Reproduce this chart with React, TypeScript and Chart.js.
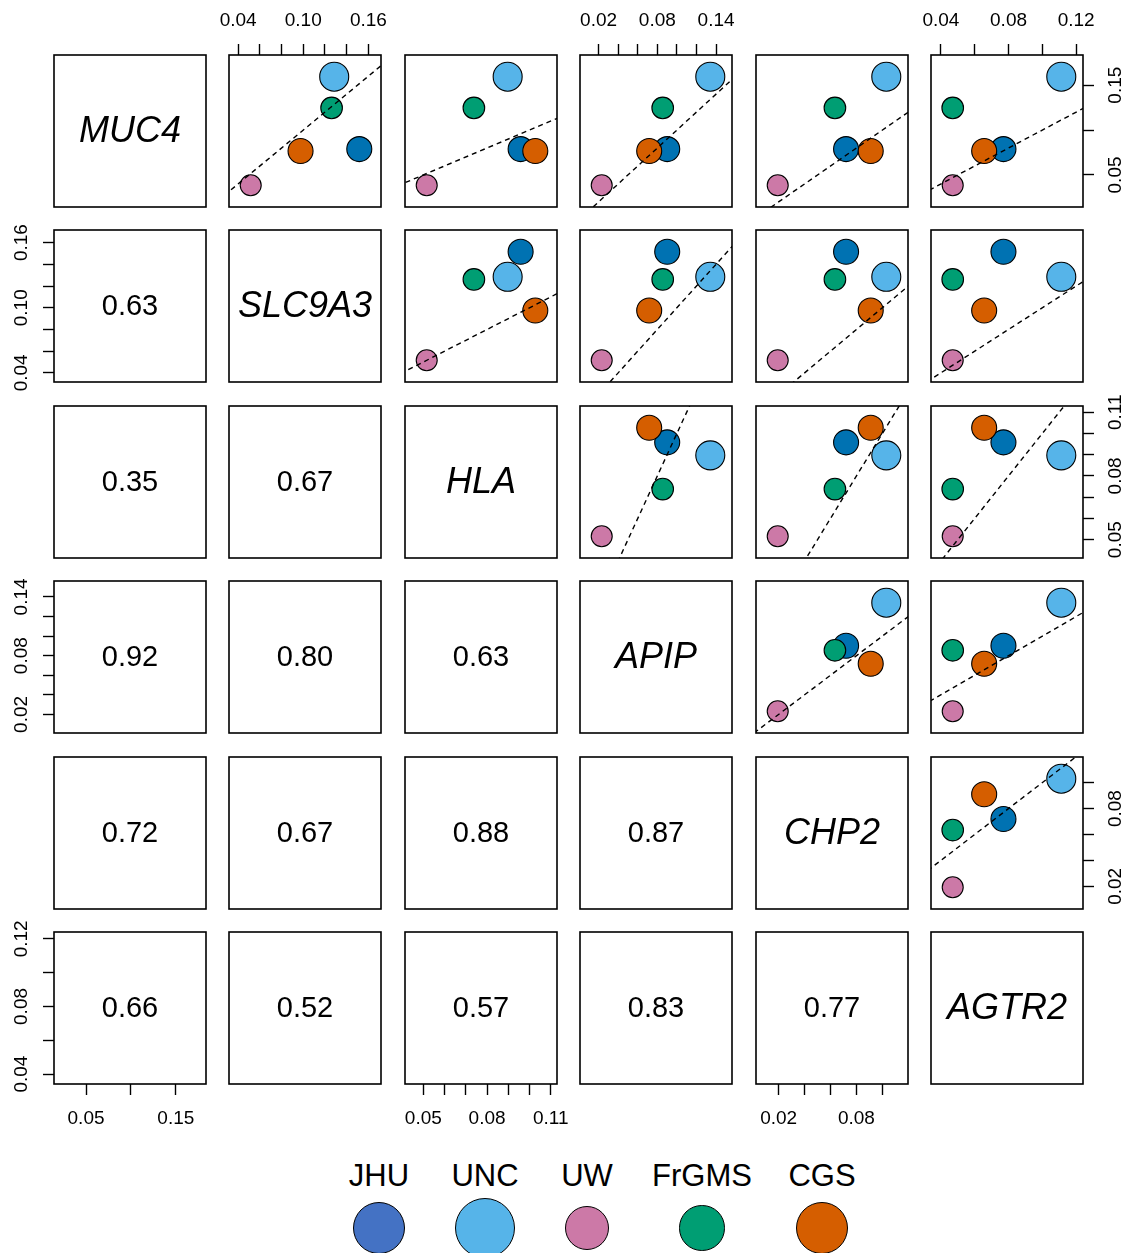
import React, { useEffect, useRef } from "react";
import { Chart, registerables } from "chart.js";

Chart.register(...registerables);

const FONT = "'Liberation Sans', Arial, Helvetica, sans-serif";
Chart.defaults.font.family = FONT;

// Sites and their marker styles
const groups = ["JHU", "UNC", "UW", "FrGMS", "CGS"];
const groupColors = ["#0072B2", "#56B4E9", "#CC79A7", "#009E73", "#D55E00"];
const legendColors = ["#4472C4", "#56B4E9", "#CC79A7", "#009E73", "#D55E00"];
const pointRadii = [12.5, 14.5, 10.5, 10.8, 12.5];

// Gene values per site (order follows `groups`)
const genes = ["MUC4", "SLC9A3", "HLA", "APIP", "CHP2", "AGTR2"];
const muc4 = [0.0788, 0.1594, 0.0385, 0.1247, 0.0766];
const slc9a3 = [0.1516, 0.1285, 0.0516, 0.1261, 0.0975];
const hla = [0.0958, 0.0897, 0.0516, 0.0738, 0.1027];
const apip = [0.0901, 0.1341, 0.0232, 0.0855, 0.0717];
const chp2 = [0.072, 0.103, 0.0193, 0.0634, 0.091];
const agtr2 = [0.077, 0.1112, 0.047, 0.047, 0.0656];
const geneValues = [muc4, slc9a3, hla, apip, chp2, agtr2];

// Axis ticks per gene and which of them carry a label
const geneTicks = [
  [0.05, 0.1, 0.15],
  [0.04, 0.06, 0.08, 0.1, 0.12, 0.14, 0.16],
  [0.05, 0.06, 0.07, 0.08, 0.09, 0.1, 0.11],
  [0.02, 0.04, 0.06, 0.08, 0.1, 0.12, 0.14],
  [0.02, 0.04, 0.06, 0.08, 0.1],
  [0.04, 0.06, 0.08, 0.1, 0.12],
];
const geneTickLabels = [
  ["0.05", "0.15"],
  ["0.04", "0.10", "0.16"],
  ["0.05", "0.08", "0.11"],
  ["0.02", "0.08", "0.14"],
  ["0.02", "0.08"],
  ["0.04", "0.08", "0.12"],
];

// Correlations shown below the diagonal, row by row
const corrRow2 = ["0.63"];
const corrRow3 = ["0.35", "0.67"];
const corrRow4 = ["0.92", "0.80", "0.63"];
const corrRow5 = ["0.72", "0.67", "0.88", "0.87"];
const corrRow6 = ["0.66", "0.52", "0.57", "0.83", "0.77"];
const correlations: string[][] = [[], corrRow2, corrRow3, corrRow4, corrRow5, corrRow6];

// Grid geometry
const GRID_LEFT = 54;
const GRID_TOP = 55;
const STEP = 175.4;
const BOX = 152;
const MARGIN = 64;
const AXIS = 48;

// Legend layout: horizontal centre of each entry
const LEGEND_CENTERS = [379, 485, 587, 702, 822];

function axisRange(vals: number[]): [number, number] {
  const lo = Math.min(...vals);
  const hi = Math.max(...vals);
  const pad = (hi - lo) * 0.2;
  return [lo - pad, hi + pad];
}

function scaleOptions(axis: "x" | "y", gene: number, min: number, max: number, position: string | null) {
  const vertical = axis === "y";
  const shown = position !== null;
  return {
    type: "linear",
    position: position ?? (vertical ? "left" : "bottom"),
    display: shown,
    min,
    max,
    afterBuildTicks: (s: any) => {
      s.ticks = geneTicks[gene].map((v) => ({ value: v }));
    },
    afterFit: (s: any) => {
      const size = shown ? AXIS : 0;
      if (vertical) s.width = size;
      else s.height = size;
      s.paddingLeft = 0;
      s.paddingRight = 0;
      s.paddingTop = 0;
      s.paddingBottom = 0;
    },
    grid: {
      display: true,
      drawOnChartArea: false,
      drawTicks: true,
      tickLength: 11,
      tickWidth: 1.4,
      tickColor: "#000",
    },
    border: { display: false },
    ticks: {
      autoSkip: false,
      padding: vertical ? 3 : 12,
      color: "#000",
      font: { family: FONT, size: 19 },
      minRotation: vertical ? 90 : 0,
      maxRotation: vertical ? 90 : 0,
      crossAlign: vertical ? "center" : "near",
      callback: (v: any) => {
        const s = Number(v).toFixed(2);
        return geneTickLabels[gene].includes(s) ? s : "";
      },
    },
  };
}

function Panel({ row, col }: { row: number; col: number }) {
  const ref = useRef<HTMLCanvasElement>(null);

  useEffect(() => {
    const canvas = ref.current;
    if (!canvas) return;
    const showTop = row === 0 && col % 2 === 1;
    const showBottom = row === 5 && col % 2 === 0;
    const showLeft = col === 0 && row % 2 === 1;
    const showRight = col === 5 && row % 2 === 0;
    const [xMin, xMax] = axisRange(geneValues[col]);
    const [yMin, yMax] = axisRange(geneValues[row]);
    const upper = col > row;

    const datasets: any[] = [];
    if (upper) {
      const lo = Math.min(xMin, yMin);
      const hi = Math.max(xMax, yMax);
      // y = x reference line
      datasets.push({
        data: [
          { x: lo, y: lo },
          { x: hi, y: hi },
        ],
        showLine: true,
        borderColor: "#000",
        borderWidth: 1.4,
        borderDash: [5, 4],
        pointRadius: 0,
        clip: 0,
      });
      datasets.push({
        data: groups.map((_, g) => ({ x: geneValues[col][g], y: geneValues[row][g] })),
        backgroundColor: groupColors,
        borderColor: "#000",
        borderWidth: 1.1,
        pointRadius: pointRadii,
        pointHoverRadius: pointRadii,
      });
    }

    let text = "";
    let italic = false;
    if (row === col) {
      text = genes[row];
      italic = true;
    } else if (row > col) {
      text = correlations[row][col];
    }

    const panelDecor = {
      id: "panelDecor",
      afterDraw(chart: any) {
        const { ctx, chartArea } = chart;
        ctx.save();
        ctx.strokeStyle = "#000";
        ctx.lineWidth = 1.6;
        ctx.strokeRect(chartArea.left, chartArea.top, chartArea.width, chartArea.height);
        if (text) {
          ctx.fillStyle = "#000";
          ctx.textAlign = "center";
          ctx.textBaseline = "middle";
          ctx.font = italic ? `italic 36px ${FONT}` : `29px ${FONT}`;
          ctx.fillText(text, (chartArea.left + chartArea.right) / 2, (chartArea.top + chartArea.bottom) / 2 + 1);
        }
        ctx.restore();
      },
    };

    const chart = new Chart(canvas, {
      type: "scatter",
      data: { datasets },
      options: {
        responsive: false,
        animation: false,
        events: [],
        layout: {
          padding: {
            top: showTop ? MARGIN - AXIS : MARGIN,
            bottom: showBottom ? MARGIN - AXIS : MARGIN,
            left: showLeft ? MARGIN - AXIS : MARGIN,
            right: showRight ? MARGIN - AXIS : MARGIN,
          },
        },
        plugins: { legend: { display: false }, tooltip: { enabled: false } },
        scales: {
          x: scaleOptions("x", col, xMin, xMax, showTop ? "top" : showBottom ? "bottom" : null),
          y: scaleOptions("y", row, yMin, yMax, showLeft ? "left" : showRight ? "right" : null),
        } as any,
      },
      plugins: [panelDecor],
    } as any);

    return () => chart.destroy();
  }, [row, col]);

  const left = Math.round(GRID_LEFT + col * STEP) - MARGIN;
  const top = Math.round(GRID_TOP + row * STEP) - MARGIN;
  const size = BOX + 2 * MARGIN;
  return (
    <canvas
      ref={ref}
      width={size}
      height={size}
      style={{ position: "absolute", left, top, width: size, height: size }}
    />
  );
}

function Legend() {
  return (
    <>
      {groups.map((g, i) => (
        <div
          key={g}
          style={{
            position: "absolute",
            left: LEGEND_CENTERS[i] - 60,
            top: 1158,
            width: 120,
            display: "flex",
            flexDirection: "column",
            alignItems: "center",
            fontFamily: FONT,
            fontSize: 31,
            color: "#000",
          }}
        >
          <div style={{ lineHeight: "36px", height: 36 }}>{g}</div>
          <div
            style={{
              marginTop: 34 - pointRadii[i] * 2.1,
              width: pointRadii[i] * 4.2,
              height: pointRadii[i] * 4.2,
              borderRadius: "50%",
              background: legendColors[i],
              border: "1.2px solid #000",
              boxSizing: "border-box",
              flexShrink: 0,
            }}
          />
        </div>
      ))}
    </>
  );
}

export default function App() {
  const cells = [];
  for (let r = 0; r < 6; r++) {
    for (let c = 0; c < 6; c++) {
      cells.push(<Panel key={`${r}-${c}`} row={r} col={c} />);
    }
  }
  return (
    <div
      style={{
        position: "absolute",
        left: 0,
        top: 0,
        width: 1132,
        height: 1253,
        overflow: "hidden",
        background: "#fff",
      }}
    >
      {cells}
      <Legend />
    </div>
  );
}
